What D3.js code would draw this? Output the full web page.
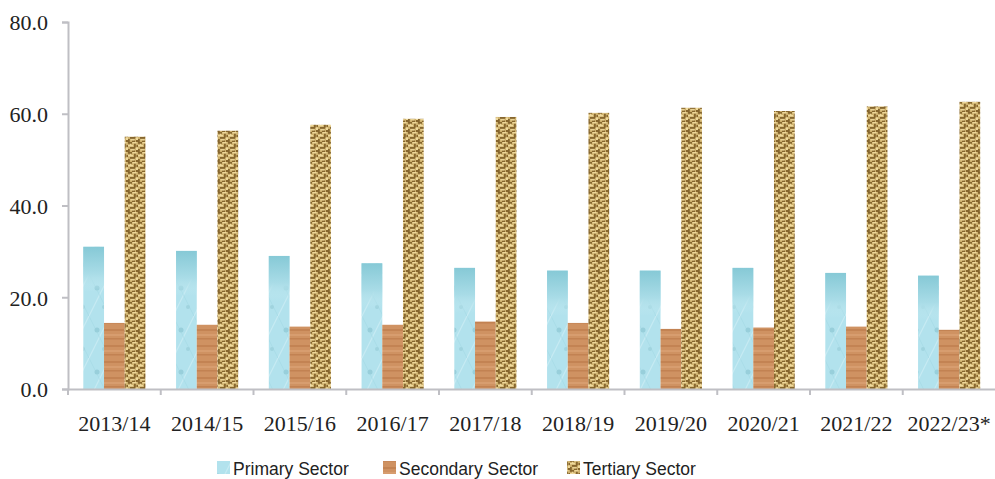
<!DOCTYPE html>
<html>
<head>
<meta charset="utf-8">
<script src="https://cdn.jsdelivr.net/npm/d3@7"></script>
<style>
  body { margin: 0; background: #fff; }
  #chart svg { display: block; }
  .axis path, .axis line { stroke: #bfbfc4; stroke-width: 2; }
  .axis text { font-family: 'Liberation Serif', 'Times New Roman', serif; font-size: 22px; fill: #222; }
  .legend text { font-family: 'Liberation Sans', Arial, sans-serif; font-size: 17.5px; fill: #222; }
</style>
</head>
<body>
<div id="chart"></div>
<script>
//Datos
const years = ['2013/14','2014/15','2015/16','2016/17','2017/18','2018/19','2019/20','2020/21','2021/22','2022/23*'];
const primary = [31.0, 30.1, 29.0, 27.4, 26.4, 25.8, 25.8, 26.4, 25.3, 24.7];
const secondary = [14.4, 14.0, 13.6, 14.0, 14.7, 14.4, 13.1, 13.4, 13.6, 12.9];
const tertiary = [55.0, 56.3, 57.6, 58.9, 59.3, 60.2, 61.3, 60.6, 61.6, 62.6];
const seriesNames = ['Primary Sector','Secondary Sector','Tertiary Sector'];
const yTicks = [0, 20, 40, 60, 80];

const series = [
    {name: seriesNames[0], values: primary, fill: 'url(#pat-primary)'},
    {name: seriesNames[1], values: secondary, fill: 'url(#pat-secondary)'},
    {name: seriesNames[2], values: tertiary, fill: 'url(#pat-tertiary)'}
];

let margin = {top: 22, right: 0, bottom: 90, left: 68},
    width = 995 - margin.left - margin.right + 0.5,
    height = 479 - margin.top - margin.bottom;

let root = d3.select('#chart')
    .append('svg')
        .attr('width', 995)
        .attr('height', 479);

//Texturas
let defs = root.append('defs');

let gTop = defs.append('linearGradient').attr('id', 'grad-primary').attr('x1', 0).attr('y1', 0).attr('x2', 0).attr('y2', 1);
gTop.append('stop').attr('offset', '0%').attr('stop-color', '#86c9d6');
gTop.append('stop').attr('offset', '60%').attr('stop-color', '#a9dce7');
gTop.append('stop').attr('offset', '100%').attr('stop-color', '#c6ebf2').attr('stop-opacity', 0);

let pP = defs.append('pattern').attr('id', 'pat-primary').attr('patternUnits', 'userSpaceOnUse')
    .attr('width', 21).attr('height', 42);
pP.append('rect').attr('width', 21).attr('height', 42).attr('fill', '#b2e2ed');
pP.append('path').attr('d', 'M0,42 L21,0 M-10,21 L10,-19 M11,63 L31,23').attr('stroke', '#d3f0f6').attr('stroke-width', 1.2).attr('opacity', 0.6);
pP.append('path').attr('d', 'M0,0 L21,42').attr('stroke', '#9fd6e2').attr('stroke-width', 1).attr('opacity', 0.5);
pP.append('circle').attr('cx', 8).attr('cy', 14).attr('r', 2.5).attr('fill', '#98cfdb');
pP.append('circle').attr('cx', 15).attr('cy', 33).attr('r', 2).attr('fill', '#a0d4df');

let pS = defs.append('pattern').attr('id', 'pat-secondary').attr('patternUnits', 'userSpaceOnUse')
    .attr('width', 20).attr('height', 16);
pS.append('rect').attr('width', 20).attr('height', 16).attr('fill', '#cf9262');
pS.append('rect').attr('y', 3).attr('width', 20).attr('height', 2).attr('fill', '#c07f4f').attr('opacity', 0.8);
pS.append('rect').attr('y', 8).attr('width', 20).attr('height', 2).attr('fill', '#d9a072').attr('opacity', 0.8);
pS.append('rect').attr('y', 12).attr('width', 20).attr('height', 1.5).attr('fill', '#bd7b4b').attr('opacity', 0.7);

let pT = defs.append('pattern').attr('id', 'pat-tertiary').attr('patternUnits', 'userSpaceOnUse')
    .attr('width', 10).attr('height', 10);
pT.append('rect').attr('width', 10).attr('height', 10).attr('fill', '#cdb06d');
[[0,0,4,1.8],[6,1.5,1.8,4],[2,5,5,1.8],[0,7,1.8,3],[8,8,2,2],[4,8.5,3,1.5],[8.5,3,1.5,2]].forEach(function(r) {
    pT.append('rect').attr('x', r[0]).attr('y', r[1]).attr('width', r[2]).attr('height', r[3]).attr('fill', '#86662e');
});
[[4.5,0,4,1.4],[0,3,5,1.4],[8,5.5,2,2.5],[2.5,7.2,4,1.2],[2,1.8,1.2,1.2]].forEach(function(r) {
    pT.append('rect').attr('x', r[0]).attr('y', r[1]).attr('width', r[2]).attr('height', r[3]).attr('fill', '#efd99c');
});

let svg = root.append('g')
    .attr('transform', 'translate(' + margin.left + ',' + margin.top + ')');

//Escalas
let x0 = d3.scaleBand()
    .domain(years)
    .range([0, width])
    .paddingInner(0.33)
    .paddingOuter(0.165);

let x1 = d3.scaleBand()
    .domain(seriesNames)
    .range([0, x0.bandwidth()]);

let y = d3.scaleLinear()
    .domain([0, 80])
    .range([height, 0]);

//Barras
series.forEach(function(s) {
    let g = svg.append('g').attr('class', 'serie');
    g.selectAll('rect')
        .data(s.values)
        .enter()
        .append('rect')
        .attr('x', function(d, i) { return x0(years[i]) + x1(s.name); })
        .attr('y', function(d) { return y(d); })
        .attr('width', x1.bandwidth())
        .attr('height', function(d) { return y(0) - y(d); })
        .attr('fill', s.fill);

    //Degradado superior en el sector primario
    if (s.name == seriesNames[0]) {
        g.selectAll('.top')
            .data(s.values)
            .enter()
            .append('rect')
            .attr('class', 'top')
            .attr('x', function(d, i) { return x0(years[i]) + x1(s.name); })
            .attr('y', function(d) { return y(d); })
            .attr('width', x1.bandwidth())
            .attr('height', function(d) { return Math.min(45, y(0) - y(d)); })
            .attr('fill', 'url(#grad-primary)');
    }
});

//Ejes
let yAxis = svg.append('g')
    .attr('class', 'axis')
    .call(d3.axisLeft(y).tickValues(yTicks).tickSize(6).tickPadding(14).tickFormat(d3.format('.1f')));
yAxis.selectAll('text').attr('dy', '0.36em');

let step = x0.step();
let xAxis = svg.append('g')
    .attr('class', 'axis')
    .attr('transform', 'translate(0,' + height + ')')
    .call(d3.axisBottom(x0).tickSizeOuter(0).tickSize(0).tickPadding(26));
xAxis.selectAll('.tick').append('line')
    .attr('x1', -step / 2).attr('x2', -step / 2)
    .attr('y1', 0).attr('y2', 6);

//Leyenda
let legendPos = [217, 383, 567];
let legend = root.append('g').attr('class', 'legend');
series.forEach(function(s, i) {
    legend.append('rect')
        .attr('x', legendPos[i]).attr('y', 461)
        .attr('width', 13).attr('height', 13)
        .attr('fill', s.fill);
    legend.append('text')
        .attr('x', legendPos[i] + 16).attr('y', 474.5)
        .text(s.name);
});
</script>
</body>
</html>
